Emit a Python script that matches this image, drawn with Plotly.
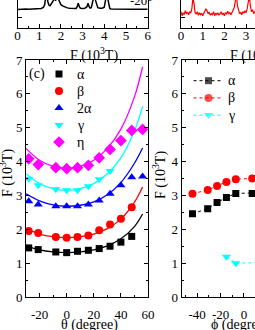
import plotly.graph_objects as go

W, H = 255, 330
FONT = "Liberation Serif"

# ---------------- data ----------------
# Panel (a): FFT spectrum at -20 deg (black), F in 10^3 T, amplitude (arb., visible bottom strip only)
spec_a_F = [0.00, 0.10, 0.20, 0.30, 0.40, 0.50, 0.60, 0.70, 0.80, 0.90, 1.00, 1.10, 1.20, 1.25,
            1.30, 1.35, 1.40, 1.45, 1.50, 1.55, 1.60, 1.65, 1.70, 1.75, 1.80, 1.85, 1.90, 1.95,
            2.00, 2.10, 2.20, 2.30, 2.40, 2.50, 2.60, 2.70, 2.75, 2.80, 2.85, 2.90, 3.00, 3.10,
            3.20, 3.25, 3.30, 3.35, 3.40, 3.45, 3.50, 3.55, 3.60, 3.65, 3.70, 3.80, 3.90, 4.00,
            4.05, 4.10, 4.15, 4.20, 4.25, 4.30, 4.50, 4.80, 5.00, 5.30, 5.60, 6.00]
spec_a_amp = [18.3, 18.6, 18.2, 18.5, 18.8, 18.4, 18.6, 18.3, 18.7, 18.5, 19.0, 19.3, 20.5, 23.0,
              30.0, 32.0, 26.0, 22.5, 22.0, 23.5, 24.5, 27.0, 31.0, 27.0, 29.0, 33.0, 28.0, 25.0,
              23.0, 21.5, 20.5, 19.8, 19.4, 19.2, 19.0, 19.3, 21.0, 24.5, 21.0, 19.5, 19.2, 19.4,
              21.0, 24.5, 21.0, 19.6, 20.0, 24.0, 32.0, 34.0, 27.0, 22.0, 20.0, 19.4, 19.5, 20.5,
              25.0, 33.0, 30.0, 22.0, 19.5, 18.8, 18.6, 18.5, 18.6, 18.4, 18.5, 18.5]

# Panel (b): FFT spectrum (red)
spec_b_F = [0.00, 0.05, 0.10, 0.15, 0.20, 0.25, 0.30, 0.35, 0.40, 0.45, 0.50, 0.55, 0.60, 0.65,
            0.70, 0.75, 0.80, 0.85, 0.90, 0.95, 1.00, 1.05, 1.10, 1.15, 1.20, 1.25, 1.30, 1.35,
            1.40, 1.45, 1.50, 1.55, 1.60, 1.65, 1.70, 1.75, 1.80, 1.85, 1.90, 1.95, 2.00, 2.05,
            2.10, 2.15, 2.20, 2.25, 2.30, 2.35, 2.40, 2.45, 2.50, 2.55, 2.60, 2.65, 2.70, 2.75,
            2.80, 2.85, 2.90, 2.95, 3.00, 3.05, 3.10, 3.15, 3.20, 3.25, 3.30, 3.35, 3.40, 3.45]
spec_b_amp = [16.0, 12.0, 15.0, 13.0, 17.0, 14.0, 15.5, 13.0, 16.0, 14.5, 19.0, 30.0, 24.0, 15.0,
              13.5, 16.0, 12.5, 15.0, 13.0, 14.5, 12.0, 15.0, 16.5, 19.0, 17.0, 14.0, 15.5, 12.5,
              14.0, 13.0, 16.0, 12.0, 14.5, 13.0, 15.0, 12.5, 14.0, 16.0, 13.0, 14.5, 12.0, 15.0,
              13.5, 16.5, 14.0, 15.0, 13.0, 16.0, 17.0, 20.0, 26.0, 34.0, 22.0, 16.0, 14.0, 15.5,
              13.0, 16.0, 14.5, 17.0, 15.0, 19.0, 28.0, 32.0, 21.0, 16.0, 18.0, 14.0, 16.0, 15.0]

# Panel (c): F vs theta
theta = [-28, -21, -8, 0, 8, 16, 24, 32, 40, 48, 56]
F_alpha = [1.45, 1.40, 1.33, 1.31, 1.35, 1.38, 1.43, 1.50, 1.62, 1.79]
F_beta = [1.95, 1.89, 1.77, 1.75, 1.77, 1.82, 1.97, 2.14, 2.31, 2.65]
F_2alpha = [2.83, 2.73, 2.68, 2.68, 2.68, 2.73, 2.85, 3.05, 3.30, 3.54, 3.56]
F_gamma = [3.49, 3.30, 3.18, 3.15, 3.15, 3.27, 3.48, 3.72]
F_eta = [4.08, 3.91, 3.82, 3.79, 3.82, 3.89, 4.11, 4.36, 4.62, 4.92, 4.95]

# fitted curves
theta_fit = [-30, -20, -10, 0, 10, 20, 30, 40, 50, 56]
fit_alpha = [1.51, 1.39, 1.33, 1.31, 1.33, 1.39, 1.51, 1.72, 2.08, 2.45]
fit_beta = [2.02, 1.86, 1.78, 1.75, 1.78, 1.86, 2.02, 2.30, 2.80, 3.25]
fit_2alpha = [3.05, 2.84, 2.72, 2.68, 2.71, 2.81, 3.02, 3.38, 3.95, 4.40]
fit_gamma = [3.64, 3.35, 3.20, 3.15, 3.20, 3.35, 3.64, 4.11, 4.90, 5.63]
fit_eta = [4.39, 4.04, 3.86, 3.80, 3.86, 4.04, 4.39, 4.96, 5.91, 6.80]

# Panel (d): F vs phi
phi = [-44, -31, -23, -15, -7, 7, 20]
Fd_alpha = [2.46, 2.61, 2.79, 2.94, 3.06, 3.06, 3.08]
Fd_beta = [3.05, 3.16, 3.28, 3.40, 3.48, 3.50, 3.52]
phi_gamma = [-15, -7, 20]
Fd_gamma = [1.19, 1.00, 1.02]

# tick labels
ticks_a = [0, 1, 2, 3, 4, 5, 6]
ticks_a_txt = ["0", "1", "2", "3", "4", "5", "6"]
ticks_c_x = [-20, 0, 20, 40, 60]
ticks_c_x_txt = ["-20", "0", "20", "40", "60"]
ticks_d_x = [-40, -20, 0]
ticks_d_x_txt = ["-40", "-20", "0"]
ticks_y = [0, 1, 2, 3, 4, 5, 6, 7]
ticks_y_txt = ["0", "1", "2", "3", "4", "5", "6", "7"]

legend_c_names = ["α", "β", "2α", "γ", "η"]
legend_d_names = ["α", "β", "γ"]


def fx(px):
    return px / W


def fy(py):
    return 1 - py / H


BLACK, RED, BLUE, CYAN, MAG = "#000000", "#ff0000", "#0000ff", "#00ffff", "#ff00ff"

fig = go.Figure()

fig.add_trace(go.Scatter(x=spec_a_F, y=spec_a_amp, mode="lines", line=dict(color=BLACK, width=1.5),
                         xaxis="x", yaxis="y", showlegend=False))
fig.add_trace(go.Scatter(x=spec_b_F, y=spec_b_amp, mode="lines", line=dict(color=RED, width=1.2),
                         xaxis="x2", yaxis="y2", showlegend=False))

for vals, col in [(fit_alpha, BLACK), (fit_beta, RED), (fit_2alpha, BLUE), (fit_gamma, CYAN), (fit_eta, MAG)]:
    fig.add_trace(go.Scatter(x=theta_fit, y=vals, mode="lines",
                             line=dict(color=col, width=1.3, shape="spline"),
                             xaxis="x3", yaxis="y3", showlegend=False))

style_c = [(BLACK, "square", 7), (RED, "circle", 8), (BLUE, "triangle-up", 8),
           (CYAN, "triangle-down", 8), (MAG, "diamond", 9)]
for vals, (col, sym, sz) in zip([F_alpha, F_beta, F_2alpha, F_gamma, F_eta], style_c):
    fig.add_trace(go.Scatter(x=theta[:len(vals)], y=vals, mode="markers",
                             marker=dict(color=col, symbol=sym, size=sz, line=dict(width=0)),
                             xaxis="x3", yaxis="y3", showlegend=False))

style_d = [(BLACK, "square", 7), (RED, "circle", 8), (CYAN, "triangle-down", 8)]
for xs, vals, (col, sym, sz) in zip([phi, phi, phi_gamma], [Fd_alpha, Fd_beta, Fd_gamma], style_d):
    fig.add_trace(go.Scatter(x=xs, y=vals, mode="lines+markers",
                             line=dict(color=col, width=1, dash="3px,3px"),
                             marker=dict(color=col, symbol=sym, size=sz, line=dict(width=0)),
                             xaxis="x4", yaxis="y4", showlegend=False))

# ---- hand-built legends on a full-figure pixel overlay axis ----
leg_c_x, leg_c_y0, leg_c_dy, leg_c_tx = 59, 74, 17, 75
for i, (col, sym, sz) in enumerate(style_c):
    fig.add_trace(go.Scatter(x=[leg_c_x], y=[leg_c_y0 + i * leg_c_dy], mode="markers",
                             marker=dict(color=col, symbol=sym, size=sz, line=dict(width=0)),
                             xaxis="x5", yaxis="y5", showlegend=False, cliponaxis=False))
leg_d_x0, leg_d_x1, leg_d_y0, leg_d_dy, leg_d_tx = 193.5, 223.5, 80.7, 17.2, 226
for i, (col, sym, sz) in enumerate(style_d):
    yy = leg_d_y0 + i * leg_d_dy
    fig.add_trace(go.Scatter(x=[leg_d_x0, (leg_d_x0 + leg_d_x1) / 2, leg_d_x1], y=[yy, yy, yy],
                             mode="lines+markers",
                             line=dict(color=col, width=1, dash="3px,3px"),
                             marker=dict(color=col, symbol=sym, size=[0, sz, 0], line=dict(width=0)),
                             xaxis="x5", yaxis="y5", showlegend=False, cliponaxis=False))

base = dict(showline=True, linecolor="black", linewidth=1, ticks="inside", ticklen=4,
            tickcolor="black", tickwidth=1, showgrid=False, zeroline=False, automargin=False,
            tickfont=dict(size=13, color="black", family=FONT))
minor_style = dict(ticks="inside", ticklen=2, tickcolor="black", showgrid=False)

fig.update_layout(
    width=W, height=H, margin=dict(l=0, r=0, t=0, b=0, autoexpand=False),
    paper_bgcolor="white", plot_bgcolor="rgba(0,0,0,0)",
    font=dict(family=FONT, color="black", size=13),
    showlegend=False,
    xaxis=dict(base, domain=[fx(17.5), fx(147.7)], range=[0, 6], anchor="y",
               tickmode="array", tickvals=ticks_a, ticktext=ticks_a_txt, ticklabelstandoff=-4,
               minor=dict(minor_style, tickvals=[0.5, 1.5, 2.5, 3.5, 4.5, 5.5])),
    yaxis=dict(base, domain=[fy(27.7), 1], range=[0, 27.7], anchor="x", mirror="ticks",
               tickmode="array", tickvals=[10.7], showticklabels=False),
    xaxis2=dict(base, domain=[fx(181), 1], range=[0, 74 / 21.7], anchor="y2",
                tickmode="array", tickvals=ticks_a, ticktext=ticks_a_txt, ticklabelstandoff=-4,
                minor=dict(minor_style, tickvals=[0.5, 1.5, 2.5, 3.5])),
    yaxis2=dict(base, domain=[fy(27.7), 1], range=[0, 27.7], anchor="x2",
                tickmode="array", tickvals=[10.7], showticklabels=False),
    xaxis3=dict(base, domain=[fx(26), fx(148)], range=[-30, 60], anchor="y3", mirror="ticks",
                tickmode="array", tickvals=ticks_c_x, ticktext=ticks_c_x_txt, ticklabelstandoff=5,
                minor=dict(minor_style, tickvals=[-30, -10, 10, 30, 50])),
    yaxis3=dict(base, domain=[fy(297), fy(60)], range=[0, 7], anchor="x3", mirror="ticks",
                tickmode="array", tickvals=ticks_y, ticktext=ticks_y_txt,
                minor=dict(minor_style, tickvals=[0.5, 1.5, 2.5, 3.5, 4.5, 5.5, 6.5])),
    xaxis4=dict(base, domain=[fx(181.7), 1], range=[-53.2, 9.4], anchor="y4", mirror="ticks",
                tickmode="array", tickvals=ticks_d_x, ticktext=ticks_d_x_txt, ticklabelstandoff=5,
                minor=dict(minor_style, tickvals=[-50, -30, -10])),
    yaxis4=dict(base, domain=[fy(297), fy(60)], range=[0, 7], anchor="x4",
                tickmode="array", tickvals=ticks_y, ticktext=ticks_y_txt,
                minor=dict(minor_style, tickvals=[0.5, 1.5, 2.5, 3.5, 4.5, 5.5, 6.5])),
    xaxis5=dict(domain=[0, 1], range=[0, W], anchor="y5", visible=False, fixedrange=True),
    yaxis5=dict(domain=[0, 1], range=[H, 0], anchor="x5", visible=False, fixedrange=True),
)

ann = [
    dict(text="-20°", x=fx(128), y=fy(9.5), xanchor="left", yanchor="bottom", size=13),
    dict(text="F (10<sup>3</sup>T)", x=fx(94), y=fy(55), xanchor="center", yanchor="middle", size=14),
    dict(text="F (10<sup>3</sup>T)", x=fx(254), y=fy(55), xanchor="center", yanchor="middle", size=14),
    dict(text="(c)", x=fx(27), y=fy(74), xanchor="left", yanchor="middle", size=14),
    dict(text="θ (degree)", x=fx(89), y=fy(325), xanchor="center", yanchor="middle", size=14),
    dict(text="ϕ (degree)", x=fx(240), y=fy(325), xanchor="center", yanchor="middle", size=14),
]
for i, name in enumerate(legend_c_names):
    ann.append(dict(text=name, x=fx(leg_c_tx), y=fy(leg_c_y0 + i * leg_c_dy), xanchor="left",
                    yanchor="middle", size=14))
for i, name in enumerate(legend_d_names):
    ann.append(dict(text=name, x=fx(leg_d_tx), y=fy(leg_d_y0 + i * leg_d_dy), xanchor="left",
                    yanchor="middle", size=14))
for a in ann:
    fig.add_annotation(text=a["text"], x=a["x"], y=a["y"], xref="paper", yref="paper",
                       xanchor=a["xanchor"], yanchor=a["yanchor"], showarrow=False,
                       font=dict(size=a["size"], family=FONT, color="black"))
for xc, yc in [(6, 173), (159, 175)]:
    fig.add_annotation(text="F (10<sup>3</sup>T)", x=fx(xc), y=fy(yc), xref="paper", yref="paper",
                       textangle=-90, showarrow=False, xanchor="center", yanchor="middle",
                       font=dict(size=14, family=FONT, color="black"))

fig.write_html("out.html", config={"displayModeBar": False, "staticPlot": True},
               post_script="document.body.style.margin='0px';")
